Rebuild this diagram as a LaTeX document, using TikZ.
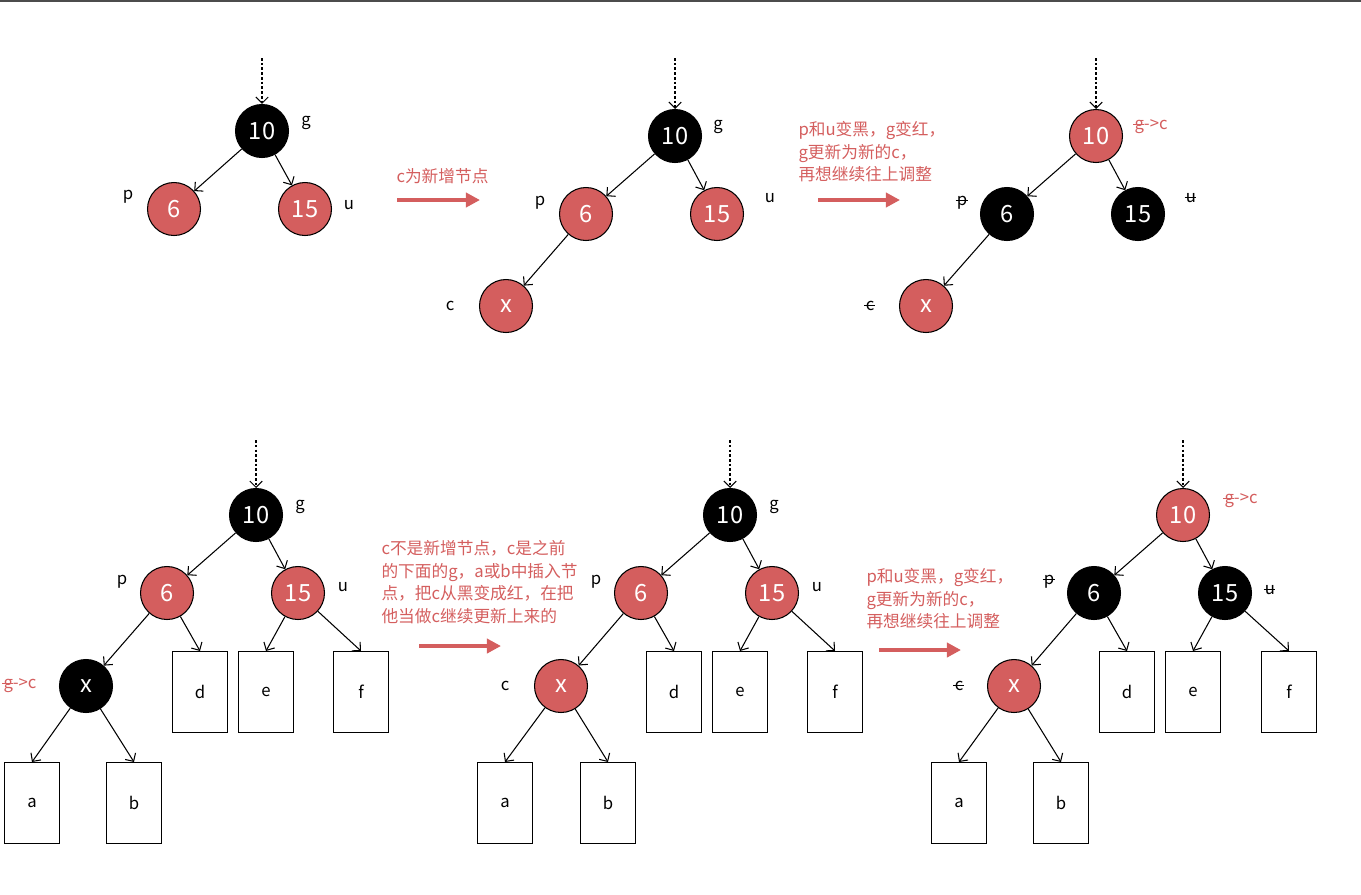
\documentclass[tikz,border=0pt]{standalone}
\usepackage{fontspec}
\setmainfont{Noto Sans CJK SC}
\usetikzlibrary{arrows.meta}
\definecolor{myred}{rgb}{0.83, 0.37, 0.37}
\newcommand{\struck}[1]{\sbox0{#1}\rlap{\kern-0.08em\rule[0.55ex]{\dimexpr\wd0+0.1em\relax}{0.5pt}}\usebox0}

\begin{document}
\begin{tikzpicture}[x=0.02cm, y=-0.02cm, >={Straight Barb[length=3.5pt, width=7pt]}, line width=0.6pt]
% Define styles
\tikzset{
  rbnode/.style={circle, draw, minimum size=1.06cm, inner sep=0pt,
    text=white, font=\fontsize{13.5}{15}\selectfont},
  rednode/.style={rbnode, fill=myred},
  blacknode/.style={rbnode, fill=black},
  leafbox/.style={draw, minimum width=1.1cm, minimum height=1.62cm,
    inner sep=0pt, font=\fontsize{9.5}{11}\selectfont},
  namelbl/.style={font=\fontsize{9.5}{11}\selectfont, inner sep=0pt},
  redlbl/.style={namelbl, text=myred, anchor=west},
  note/.style={text=myred, align=left, anchor=west, inner sep=0pt,
    font=\fontsize{9.5}{12.8}\selectfont},
  bigarrow/.style={myred, line width=2pt, -{Triangle[length=8pt, width=8pt]}},
  entry/.style={->, dash pattern=on 1.5pt off 1.2pt}
}
\useasboundingbox (0,0) rectangle (1361,894);
\draw[black!70, line width=1.2pt] (0,1) -- (1361,1);

% Top row: c is the new node
\begin{scope}
  \coordinate (in1) at (262,58);
  \node[blacknode] (g1) at (262,131) {10};
  \node[rednode] (p1) at (174,209) {6};
  \node[rednode] (u1) at (305,209) {15};
  \node[namelbl] (g1l) at (306,123) {g};
  \node[namelbl] (p1l) at (128,197) {p};
  \node[namelbl] (u1l) at (349,205) {u};
  \draw[entry] (in1) -- (g1);
  \draw[->] (g1) -- (p1);
  \draw[->] (g1) -- (u1);
\end{scope}

\node[note] (t1) at (396,176) {c为新增节点};
\coordinate (a1s) at (397,200);
\coordinate (a1e) at (480,200);
\draw[bigarrow] (a1s) -- (a1e);

\begin{scope}[shift={(413,5)}]
  \coordinate (in2) at (262,53);
  \node[blacknode] (g2) at (262,131) {10};
  \node[rednode] (p2) at (173,209) {6};
  \node[rednode] (u2) at (304,209) {15};
  \node[rednode] (x2) at (93,301) {x};
  \node[namelbl] (g2l) at (305,122) {g};
  \node[namelbl] (p2l) at (127,198) {p};
  \node[namelbl] (u2l) at (357,193) {u};
  \node[namelbl] (c2l) at (37,301) {c};
  \draw[entry] (in2) -- (g2);
  \draw[->] (g2) -- (p2);
  \draw[->] (g2) -- (u2);
  \draw[->] (p2) -- (x2);
\end{scope}

\node[note] (t2) at (798,152) {p和u变黑，g变红，\\g更新为新的c，\\再想继续往上调整};
\coordinate (a2s) at (818,200);
\coordinate (a2e) at (900,200);
\draw[bigarrow] (a2s) -- (a2e);

\begin{scope}[shift={(834,5)}]
  \coordinate (in3) at (262,53);
  \node[rednode] (g3) at (262,131) {10};
  \node[blacknode] (p3) at (173,209) {6};
  \node[blacknode] (u3) at (304,209) {15};
  \node[rednode] (x3) at (92,301) {x};
  \node[redlbl] (g3l) at (300,122) {\struck{g}->c};
  \node[namelbl] (p3l) at (128,198) {\struck{p}};
  \node[namelbl] (u3l) at (357,193) {\struck{u}};
  \node[namelbl] (c3l) at (36,301) {\struck{c}};
  \draw[entry] (in3) -- (g3);
  \draw[->] (g3) -- (p3);
  \draw[->] (g3) -- (u3);
  \draw[->] (p3) -- (x3);
\end{scope}

% Bottom row: c is an updated node
\begin{scope}
  \coordinate (in4) at (256,440);
  \node[blacknode] (g4) at (256,515) {10};
  \node[rednode] (p4) at (167,593) {6};
  \node[rednode] (u4) at (298,593) {15};
  \node[blacknode] (x4) at (86,686) {x};
  \node[leafbox] (d4) at (200,692) {d};
  \node[leafbox] (e4) at (266,692) {e};
  \node[leafbox] (f4) at (361,692) {f};
  \node[leafbox] (a4) at (32,803) {a};
  \node[leafbox] (b4) at (134,803) {b};
  \node[namelbl] (g4l) at (300,507) {g};
  \node[namelbl] (p4l) at (122,582) {p};
  \node[namelbl] (u4l) at (343,587) {u};
  \node[redlbl] (c4l) at (3,686) {\struck{g}->c};
  \draw[entry] (in4) -- (g4);
  \draw[->] (g4) -- (p4);
  \draw[->] (g4) -- (u4);
  \draw[->] (p4) -- (x4);
  \draw[->] (p4) -- (d4.north);
  \draw[->] (u4) -- (e4.north);
  \draw[->] (u4) -- (f4.north);
  \draw[->] (x4) -- (a4.north);
  \draw[->] (x4) -- (b4.north);
\end{scope}

\node[note] (t3) at (381,582) {c不是新增节点，c是之前\\的下面的g，a或b中插入节\\点，把c从黑变成红，在把\\他当做c继续更新上来的};
\coordinate (a3s) at (419,646);
\coordinate (a3e) at (501,646);
\draw[bigarrow] (a3s) -- (a3e);

\begin{scope}[shift={(474,0)}]
  \coordinate (in5) at (256,440);
  \node[blacknode] (g5) at (256,515) {10};
  \node[rednode] (p5) at (167,593) {6};
  \node[rednode] (u5) at (298,593) {15};
  \node[rednode] (x5) at (87,686) {x};
  \node[leafbox] (d5) at (200,692) {d};
  \node[leafbox] (e5) at (266,692) {e};
  \node[leafbox] (f5) at (361,692) {f};
  \node[leafbox] (a5) at (31,803) {a};
  \node[leafbox] (b5) at (134,803) {b};
  \node[namelbl] (g5l) at (300,507) {g};
  \node[namelbl] (p5l) at (122,582) {p};
  \node[namelbl] (u5l) at (343,587) {u};
  \node[namelbl] (c5l) at (31,686) {c};
  \draw[entry] (in5) -- (g5);
  \draw[->] (g5) -- (p5);
  \draw[->] (g5) -- (u5);
  \draw[->] (p5) -- (x5);
  \draw[->] (p5) -- (d5.north);
  \draw[->] (u5) -- (e5.north);
  \draw[->] (u5) -- (f5.north);
  \draw[->] (x5) -- (a5.north);
  \draw[->] (x5) -- (b5.north);
\end{scope}

\node[note] (t4) at (866,599) {p和u变黑，g变红，\\g更新为新的c，\\再想继续往上调整};
\coordinate (a4s) at (879,650);
\coordinate (a4e) at (961,650);
\draw[bigarrow] (a4s) -- (a4e);

\begin{scope}[shift={(927,0)}]
  \coordinate (in6) at (256,440);
  \node[rednode] (g6) at (256,515) {10};
  \node[blacknode] (p6) at (167,593) {6};
  \node[blacknode] (u6) at (298,593) {15};
  \node[rednode] (x6) at (87,686) {x};
  \node[leafbox] (d6) at (200,692) {d};
  \node[leafbox] (e6) at (266,692) {e};
  \node[leafbox] (f6) at (362,692) {f};
  \node[leafbox] (a6) at (32,803) {a};
  \node[leafbox] (b6) at (134,803) {b};
  \node[redlbl] (g6l) at (297,501) {\struck{g}->c};
  \node[namelbl] (p6l) at (122,582) {\struck{p}};
  \node[namelbl] (u6l) at (343,590) {\struck{u}};
  \node[namelbl] (c6l) at (32,686) {\struck{c}};
  \draw[entry] (in6) -- (g6);
  \draw[->] (g6) -- (p6);
  \draw[->] (g6) -- (u6);
  \draw[->] (p6) -- (x6);
  \draw[->] (p6) -- (d6.north);
  \draw[->] (u6) -- (e6.north);
  \draw[->] (u6) -- (f6.north);
  \draw[->] (x6) -- (a6.north);
  \draw[->] (x6) -- (b6.north);
\end{scope}
\end{tikzpicture}
\end{document}
